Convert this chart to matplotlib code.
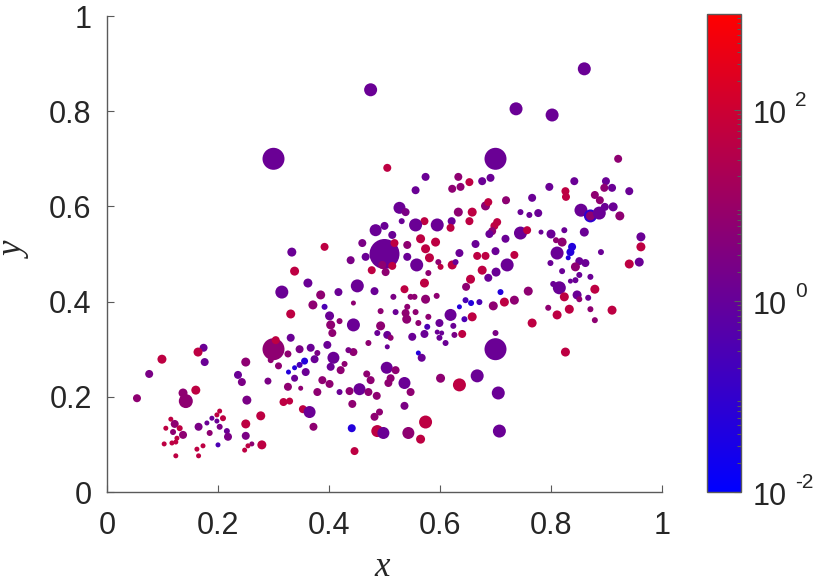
import matplotlib
matplotlib.use("Agg")
import numpy as np
import matplotlib.pyplot as plt
from matplotlib.colors import LinearSegmentedColormap, LogNorm

plt.rcParams["font.family"] = ["Liberation Sans", "DejaVu Sans"]

# colour levels
B, BP, P, PM, M, C = 0.05, 0.3, 1.2, 2.5, 6.0, 50.0

x = [0.174, 0.164, 0.176, 0.099, 0.076, 0.054, 0.137, 0.160, 0.142, 0.250,
     0.236, 0.243, 0.290, 0.252, 0.300, 0.295, 0.203, 0.198, 0.209, 0.189,
     0.198, 0.180, 0.203, 0.165, 0.185, 0.216, 0.218, 0.200, 0.173, 0.162,
     0.165, 0.115, 0.122, 0.106, 0.131, 0.119, 0.137, 0.126, 0.124, 0.117,
     0.103, 0.124, 0.250, 0.277, 0.250, 0.261, 0.254, 0.248, 0.279,
     # centre-left
     0.331, 0.347, 0.367, 0.379, 0.374, 0.326, 0.309, 0.356, 0.347, 0.338,
     0.327, 0.358, 0.338, 0.326, 0.349, 0.388, 0.401, 0.379, 0.419, 0.437,
     0.455, 0.471, 0.486, 0.442, 0.318, 0.329, 0.353, 0.365, 0.372, 0.441,
     0.487, 0.498, 0.543, 0.446, 0.482, 0.491, 0.536, 0.504, 0.520, 0.511,
     0.507, 0.536, 0.468, 0.475, 0.471, 0.444, 0.435, 0.428, 0.421, 0.408,
     0.403, 0.397, 0.406, 0.487, 0.505, 0.511, 0.505,
     # lower right
     0.700, 0.700, 0.640, 0.626, 0.610, 0.599, 0.595, 0.603, 0.572, 0.550,
     0.561, 0.567, 0.601, 0.635, 0.667, 0.705, 0.547, 0.574, 0.565, 0.707,
     0.826,
     # centre
     0.527, 0.538, 0.484, 0.500, 0.514, 0.531, 0.460, 0.392, 0.333, 0.500,
     0.518, 0.541, 0.466, 0.439, 0.541, 0.496, 0.514, 0.477, 0.502, 0.338,
     0.362, 0.315, 0.385, 0.417, 0.451, 0.482, 0.536, 0.516, 0.371, 0.392,
     0.444, 0.493, 0.520, 0.331, 0.401, 0.419, 0.403, 0.444, 0.493, 0.304,
     0.538,
     # centre-right
     0.682, 0.687, 0.718, 0.745, 0.761, 0.777, 0.633, 0.658, 0.653, 0.621,
     0.572, 0.556, 0.595, 0.619, 0.703, 0.698, 0.694, 0.689, 0.745, 0.757,
     0.782, 0.718, 0.565, 0.592, 0.574, 0.558, 0.581, 0.597, 0.601, 0.622,
     0.628, 0.635, 0.664, 0.667, 0.682, 0.700, 0.734, 0.721, 0.701, 0.676,
     0.687, 0.655, 0.647, 0.579, 0.572, 0.594, 0.554, 0.547, 0.574, 0.709,
     0.646, 0.656, 0.671, 0.635, 0.696, 0.716, 0.734, 0.759, 0.766, 0.541,
     0.556, 0.540, 0.561, 0.579, 0.599, 0.619, 0.644, 0.658, 0.577, 0.624,
     # right
     0.854, 0.871, 0.871, 0.887, 0.897, 0.912, 0.924, 0.800, 0.824, 0.860,
     0.809, 0.820, 0.811, 0.838, 0.835, 0.831, 0.799, 0.851, 0.862, 0.844,
     0.820, 0.851, 0.844, 0.835, 0.871, 0.804, 0.815, 0.824, 0.847, 0.851,
     0.867, 0.879, 0.890, 0.941, 0.959, 0.962, 0.962, 0.795, 0.833, 0.811,
     0.871, 0.910, 0.879,
     # top
     0.737, 0.700, 0.574, 0.556, 0.633, 0.653, 0.676, 0.691, 0.622, 0.637,
     0.719, 0.766, 0.860, 0.802, 0.921, 0.842, 0.797, 0.899, 0.896, 0.910,
     0.826, 0.827, 0.879, 0.888, 0.941, 0.475, 0.300, 0.505]

y = [0.303, 0.294, 0.273, 0.279, 0.248, 0.197, 0.208, 0.214, 0.191, 0.273,
     0.246, 0.231, 0.233, 0.193, 0.300, 0.277, 0.170, 0.162, 0.155, 0.155,
     0.149, 0.145, 0.137, 0.137, 0.124, 0.128, 0.116, 0.099, 0.097, 0.090,
     0.076, 0.153, 0.143, 0.134, 0.134, 0.126, 0.120, 0.113, 0.105, 0.103,
     0.101, 0.076, 0.143, 0.160, 0.118, 0.101, 0.097, 0.088, 0.099,
     0.324, 0.300, 0.303, 0.292, 0.279, 0.290, 0.265, 0.275, 0.267, 0.261,
     0.252, 0.252, 0.239, 0.221, 0.218, 0.235, 0.227, 0.210, 0.210, 0.212,
     0.216, 0.210, 0.202, 0.185, 0.189, 0.191, 0.174, 0.168, 0.137, 0.134,
     0.128, 0.124, 0.124, 0.086, 0.158, 0.168, 0.181, 0.261, 0.256, 0.239,
     0.229, 0.229, 0.248, 0.235, 0.313, 0.294, 0.298, 0.269, 0.256, 0.282,
     0.263, 0.309, 0.334, 0.334, 0.330, 0.324, 0.305,
     0.300, 0.334, 0.332, 0.330, 0.313, 0.324, 0.336, 0.334, 0.332, 0.326,
     0.292, 0.282, 0.239, 0.225, 0.244, 0.208, 0.210, 0.147, 0.111, 0.128,
     0.294,
     0.597, 0.588, 0.550, 0.559, 0.540, 0.569, 0.523, 0.515, 0.504, 0.500,
     0.523, 0.519, 0.494, 0.487, 0.494, 0.477, 0.475, 0.466, 0.462, 0.464,
     0.439, 0.420, 0.414, 0.420, 0.433, 0.422, 0.426, 0.410, 0.393, 0.389,
     0.397, 0.380, 0.378, 0.374, 0.370, 0.359, 0.351, 0.351, 0.349, 0.319,
     0.376,
     0.601, 0.609, 0.611, 0.588, 0.582, 0.586, 0.588, 0.588, 0.569, 0.569,
     0.569, 0.561, 0.561, 0.555, 0.567, 0.559, 0.548, 0.542, 0.544, 0.550,
     0.546, 0.532, 0.532, 0.525, 0.511, 0.477, 0.492, 0.483, 0.473, 0.477,
     0.483, 0.502, 0.521, 0.496, 0.496, 0.506, 0.498, 0.477, 0.462, 0.466,
     0.450, 0.447, 0.431, 0.460, 0.439, 0.412, 0.410, 0.410, 0.405, 0.420,
     0.403, 0.397, 0.399, 0.389, 0.391, 0.399, 0.403, 0.422, 0.355, 0.389,
     0.378, 0.363, 0.355, 0.368, 0.355, 0.372, 0.363, 0.368, 0.347, 0.349,
     0.592, 0.580, 0.580, 0.586, 0.599, 0.599, 0.580, 0.542, 0.550, 0.546,
     0.529, 0.525, 0.502, 0.515, 0.504, 0.492, 0.481, 0.485, 0.481, 0.473,
     0.464, 0.456, 0.445, 0.443, 0.452, 0.437, 0.429, 0.410, 0.414, 0.405,
     0.408, 0.426, 0.504, 0.479, 0.483, 0.536, 0.515, 0.387, 0.384, 0.372,
     0.384, 0.382, 0.361,
     0.805, 0.700, 0.662, 0.634, 0.662, 0.651, 0.653, 0.660, 0.637, 0.641,
     0.613, 0.618, 0.889, 0.792, 0.700, 0.653, 0.641, 0.653, 0.639, 0.639,
     0.632, 0.620, 0.624, 0.613, 0.632, 0.845, 0.700, 0.681]

c = [P, C, P, C, PM, M, M, C, M, M,
     P, PM, PM, PM, M, M, C, C, C, P,
     P, P, PM, PM, M, P, PM, BP, C, C,
     C, C, M, C, C, M, M, C, C, C,
     C, C, C, C, PM, M, C, C, C,
     P, PM, P, PM, P, M, M, B, BP, B,
     B, P, P, M, M, M, M, M, P, M,
     P, M, M, M, C, C, C, P, M, B,
     C, P, M, C, M, M, PM, P, M, M,
     M, P, M, M, M, M, PM, M, M, P,
     P, P, M, P, P, M, P,
     P, PM, C, PM, P, P, P, P, P, P,
     B, P, M, C, P, P, M, C, C, P,
     C,
     P, PM, P, P, P, P, PM, C, P, P,
     C, M, P, PM, P, M, C, C, M, C,
     P, P, M, P, P, P, C, PM, M, BP,
     M, M, P, C, P, M, M, P, M, C,
     M,
     M, C, P, P, P, P, M, C, C, P,
     C, P, P, C, C, C, M, P, P, C,
     P, P, C, C, C, P, C, M, C, C,
     P, P, P, C, C, P, C, P, P, C,
     P, C, M, M, C, M, M, M, M, B,
     BP, B, BP, B, M, C, M, M, C, M,
     M, M, M, M, P, P, BP, C, BP, P,
     P, 0.08, M, P, P, P, M, P, P, P,
     M, M, P, B, B, B, P, P, P, M,
     P, P, P, P, P, P, P, C, P, M,
     P, C, P, C, P, P, C, M, C, C,
     M, C, M,
     P, P, P, P, M, C, P, P, M, M,
     M, P, P, P, M, P, P, P, M, P,
     C, C, M, M, P, P, P, C]

# marker diameters (pixels at 100 dpi)
d = [8, 9, 8, 9, 8, 8, 9, 9, 14, 9,
     8, 8, 7, 9, 22, 6, 5, 5, 6, 5,
     5, 5, 6, 8, 6, 6, 8, 5, 5, 5,
     5, 5, 8, 5, 6, 6, 8, 5, 5, 5,
     5, 5, 9, 9, 8, 5, 5, 5, 9,
     8, 8, 8, 6, 8, 7, 7, 7, 6, 5,
     5, 8, 7, 8, 5, 8, 8, 8, 6, 8,
     12, 8, 8, 8, 8, 7, 8, 12, 8, 8,
     12, 12, 12, 8, 8, 7, 8, 12, 8, 8,
     8, 12, 7, 8, 6, 8, 6, 6, 8, 12,
     8, 8, 8, 6, 8, 6, 5,
     22, 6, 8, 6, 6, 6, 5, 5, 8, 8,
     5, 8, 9, 13, 13, 13, 8, 13, 9, 13,
     9,
     12, 8, 12, 8, 8, 6, 8, 8, 9, 30,
     8, 8, 8, 8, 8, 8, 8, 8, 8, 9,
     9, 13, 9, 8, 13, 8, 8, 6, 9, 6,
     5, 6, 6, 9, 9, 6, 9, 13, 9, 8,
     8,
     9, 8, 6, 6, 6, 8, 9, 9, 8, 8,
     8, 13, 13, 8, 8, 8, 8, 8, 13, 8,
     5, 8, 9, 9, 9, 13, 9, 6, 6, 9,
     6, 8, 8, 8, 8, 8, 8, 13, 9, 9,
     8, 9, 8, 6, 9, 6, 6, 6, 9, 6,
     6, 6, 6, 5, 9, 9, 9, 9, 9, 6,
     6, 9, 6, 6, 8, 12, 6, 9, 6, 6,
     13, 13, 9, 13, 8, 9, 9, 9, 6, 9,
     6, 9, 13, 8, 8, 5, 6, 8, 8, 9,
     6, 6, 6, 5, 6, 6, 13, 9, 9, 6,
     6, 9, 6, 9, 9, 9, 9, 6, 9, 9,
     6, 9, 6,
     13, 22, 8, 8, 8, 8, 8, 8, 8, 8,
     8, 8, 13, 13, 8, 8, 8, 8, 8, 8,
     8, 8, 8, 8, 8, 13, 22, 8]

tick_vals = [0, 0.2, 0.4, 0.6, 0.8, 1]
tick_text = ["0", "0.2", "0.4", "0.6", "0.8", "1"]
cb_vals = [1e-2, 1e0, 1e2]
cb_exps = ["-2", "0", "2"]

cmap = LinearSegmentedColormap.from_list("br", [(0, 0, 1), (1, 0, 0)])
norm = LogNorm(vmin=1e-2, vmax=1e3)
txt = "#262626"
line = "#5a5a5a"

fig = plt.figure(figsize=(8.22, 5.85), dpi=100)
ax = fig.add_axes([107 / 822, 1 - 492 / 585, 555 / 822, 476 / 585])
sizes = (np.array(d) * 0.72) ** 2
sc = ax.scatter(x, y, s=sizes, c=c, cmap=cmap, norm=norm, linewidths=0)

ax.set_xlim(0, 1)
ax.set_ylim(0, 1)
ax.set_xticks(tick_vals)
ax.set_yticks(tick_vals)
ax.set_xticklabels(tick_text)
ax.set_yticklabels(tick_text)
ax.tick_params(direction="in", length=5, width=0.8, labelsize=22,
               color=line, labelcolor=txt)
ax.tick_params(axis="x", pad=14)
ax.tick_params(axis="y", pad=11)
for s in ["top", "right"]:
    ax.spines[s].set_visible(False)
for s in ["left", "bottom"]:
    ax.spines[s].set_color(line)
    ax.spines[s].set_linewidth(1.0)

fig.text(382 / 822, 1 - 576 / 585, "x", family="Liberation Serif", style="italic",
         fontsize=25, color=txt, ha="center", va="baseline")
fig.text(15 / 822, 1 - 250 / 585, "y", family="Liberation Serif", style="italic",
         fontsize=25, color=txt, ha="center", va="center", rotation=90)

cax = fig.add_axes([707 / 822, 1 - 492 / 585, 34 / 822, 478 / 585])
cb = fig.colorbar(sc, cax=cax)
cb.set_ticks(cb_vals)
cb.set_ticklabels(["", "", ""])
cax.tick_params(which="major", direction="in", length=5, width=0.8, color=line)
cax.tick_params(which="minor", direction="in", length=3, width=0.8, color=line)
cb.outline.set_edgecolor(line)
cb.outline.set_linewidth(1.0)

for v, e in zip(cb_vals, cb_exps):
    cax.annotate("10", xy=(1, v), xycoords=("axes fraction", "data"),
                 xytext=(8.6, -3.6), textcoords="offset points",
                 fontsize=22, color=txt, ha="left", va="center")
    cax.annotate(e, xy=(1, v), xycoords=("axes fraction", "data"),
                 xytext=(39, 6.5), textcoords="offset points",
                 fontsize=15, color=txt, ha="left", va="center")

fig.savefig("out.png", dpi=100)
